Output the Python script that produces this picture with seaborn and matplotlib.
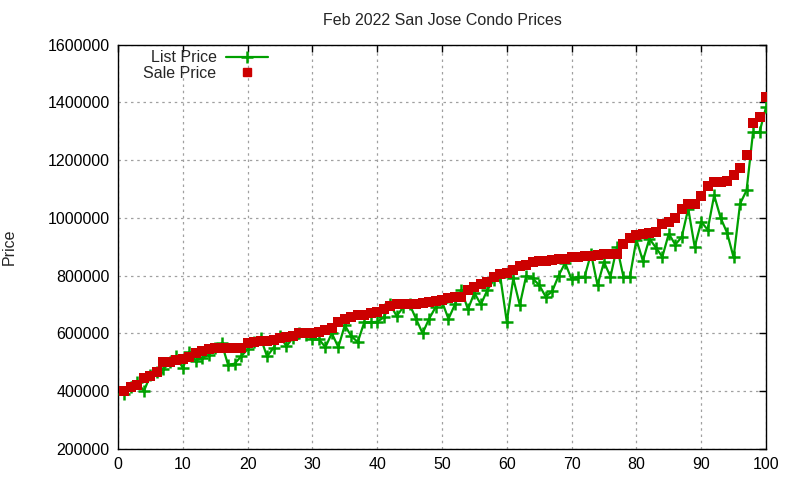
#!/usr/bin/env python
''' Feb 2022 San Jose condo prices, gnuplot-look chart.
'''

import pandas as pd
import seaborn as sns
import matplotlib
matplotlib.use('Agg')
import matplotlib.pyplot as plt
from matplotlib.lines import Line2D

# Listing index 1..100
listing = list(range(1, 101))

list_price = [
    390000, 415000, 430000, 400000, 455000, 465000, 475000, 500000, 520000, 480000,
    535000, 505000, 515000, 525000, 550000, 565000, 490000, 495000, 520000, 545000,
    570000, 585000, 520000, 550000, 590000, 555000, 585000, 600000, 595000, 580000,
    580000, 552000, 600000, 552000, 628000, 590000, 570000, 638000, 638000, 640000,
    655000, 700000, 660000, 690000, 700000, 650000, 600000, 650000, 690000, 710000,
    650000, 700000, 750000, 683000, 740000, 700000, 750000, 785000, 795000, 640000,
    790000, 698000, 800000, 790000, 767000, 727000, 745000, 800000, 844000, 787000,
    796000, 796000, 876000, 767000, 847000, 796000, 899000, 796000, 796000, 925000,
    851000, 928000, 897000, 865000, 945000, 907000, 934000, 1032000, 899000, 986000,
    959000, 1078000, 1000000, 948000, 863000, 1049000, 1095000, 1297000, 1297000, 1383000,
]

sale_price = [
    401000, 415000, 421000, 446000, 453000, 467000, 502000, 502000, 508000, 510000,
    519000, 531000, 539000, 545000, 548000, 550000, 550000, 550000, 550000, 565000,
    569000, 574000, 574000, 577000, 583000, 588000, 591000, 600000, 600000, 602000,
    605000, 611000, 619000, 638000, 650000, 657000, 662000, 665000, 671000, 675000,
    683000, 694000, 700000, 701000, 701000, 703000, 705000, 709000, 712000, 715000,
    721000, 726000, 727000, 749000, 761000, 772000, 778000, 795000, 805000, 810000,
    820000, 832000, 838000, 848000, 850000, 851000, 855000, 857000, 858000, 863000,
    865000, 867000, 868000, 872000, 874000, 876000, 876000, 910000, 930000, 941000,
    945000, 948000, 950000, 978000, 986000, 999000, 1030000, 1048000, 1048000, 1075000,
    1109000, 1124000, 1124000, 1127000, 1148000, 1172000, 1217000, 1328000, 1349000, 1418000,
]

y_ticks = [200000, 400000, 600000, 800000, 1000000, 1200000, 1400000, 1600000]
x_ticks = [0, 10, 20, 30, 40, 50, 60, 70, 80, 90, 100]

GREEN = '#00a000'
RED = '#cc0000'


def main():
    df = pd.DataFrame({'listing': listing, 'list': list_price, 'sale': sale_price})

    sns.set_style('white')
    plt.rcParams['font.family'] = ['Liberation Sans', 'DejaVu Sans']
    plt.rcParams['font.size'] = 11.5

    fig = plt.figure(figsize=(8, 4.8), dpi=100)
    ax = fig.add_axes([0.1475, 0.065, 0.81, 0.842])

    # list price: line with plus markers
    sns.lineplot(data=df, x='listing', y='list', ax=ax, color=GREEN,
                 linewidth=1.6, marker='+', markersize=9, markeredgewidth=1.8,
                 markeredgecolor=GREEN, zorder=3)
    # sale price: filled squares on top
    sns.scatterplot(data=df, x='listing', y='sale', ax=ax, color=RED,
                    marker='s', s=42, linewidth=0, zorder=4)

    ax.set_xlim(0, 100)
    ax.set_ylim(200000, 1600000)
    ax.set_xticks(x_ticks)
    ax.set_yticks(y_ticks)
    ax.set_yticklabels([str(v) for v in y_ticks])
    ax.grid(True, color='#a0a0a0', linestyle=(0, (2, 3)), linewidth=0.9)
    ax.tick_params(direction='in', length=5, width=1, top=True, right=True,
                   labelsize=11.5, pad=6, colors='black')
    for sp in ax.spines.values():
        sp.set_color('black')
        sp.set_linewidth(1)

    ax.set_xlabel('')
    ax.set_ylabel('Price', labelpad=22)
    ax.set_title('Feb 2022 San Jose Condo Prices', fontsize=11.5, pad=14)

    handles = [
        Line2D([], [], color=GREEN, linewidth=1.6, marker='+', markersize=9,
               markeredgewidth=1.8),
        Line2D([], [], color=RED, linestyle='none', marker='s', markersize=6),
    ]
    ax.legend(handles, ['List Price', 'Sale Price'], loc='upper left',
              bbox_to_anchor=(0.022, 1.014), markerfirst=False, frameon=False,
              handlelength=2.6, handletextpad=0.6, labelspacing=0.05,
              borderaxespad=0.3, fontsize=11.5)

    fig.savefig('out.png', dpi=100)


if __name__ == '__main__':
    main()
